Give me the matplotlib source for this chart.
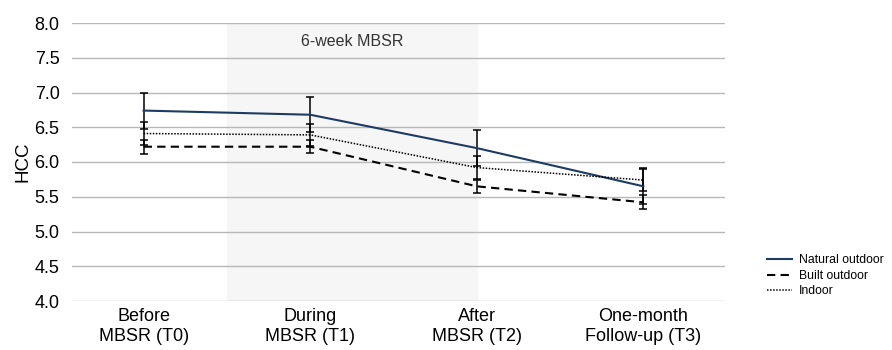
import matplotlib.pyplot as plt

plt.rcParams["font.family"] = ["Liberation Sans", "DejaVu Sans"]

# data
timepoints = ["Before\nMBSR (T0)", "During\nMBSR (T1)", "After\nMBSR (T2)", "One-month\nFollow-up (T3)"]
natural_outdoor = [6.74, 6.68, 6.20, 5.65]
natural_err = [0.26, 0.25, 0.26, 0.26]
built_outdoor = [6.22, 6.22, 5.65, 5.42]
built_err = [0.10, 0.09, 0.09, 0.10]
indoor = [6.41, 6.39, 5.92, 5.74]
indoor_err = [0.16, 0.16, 0.16, 0.16]

fig = plt.figure(figsize=(8.92, 3.5), dpi=100)
ax = fig.add_axes([72 / 892, 49 / 350, 653 / 892, 278 / 350])

x = list(range(len(timepoints)))

ax.axvspan(0.5, 2, color="#f6f6f6", zorder=0)
ax.text(1.25, 7.74, "6-week MBSR", ha="center", va="center", fontsize=11.5, color="#333333")

series = [
    ("Natural outdoor", natural_outdoor, natural_err, dict(color="#1d3c63", lw=1.5, ls="-")),
    ("Built outdoor", built_outdoor, built_err, dict(color="black", lw=1.5, ls=(0, (4, 2.5)))),
    ("Indoor", indoor, indoor_err, dict(color="black", lw=1.1, ls=(0, (1, 1)))),
]
handles = []
for name, vals, err, style in series:
    ax.errorbar(x, vals, yerr=err, fmt="none", ecolor="black", elinewidth=1.1,
                capsize=3, capthick=1.1, zorder=3)
    (line,) = ax.plot(x, vals, label=name, zorder=4, **style)
    handles.append(line)

ax.set_xlim(-0.43, 3.49)
ax.set_ylim(4.0, 8.0)
ax.set_yticks([4.0, 4.5, 5.0, 5.5, 6.0, 6.5, 7.0, 7.5, 8.0])
ax.set_yticklabels([f"{v:.1f}" for v in ax.get_yticks()])
ax.set_xticks(x)
ax.set_xticklabels(timepoints, fontsize=13, linespacing=1.2)
ax.tick_params(axis="y", length=0, pad=9, labelsize=13)
ax.tick_params(axis="x", length=0, pad=5)
ax.grid(axis="y", color="#b8b8b8", lw=1)
ax.set_axisbelow(True)
for s in ax.spines.values():
    s.set_visible(False)
ax.set_ylabel("HCC", fontsize=13.5, labelpad=2)

fig.legend(handles=handles, loc="upper left", bbox_to_anchor=(761 / 892, 1 - 248 / 350),
           frameon=False, fontsize=8.8, handlelength=2.0, handletextpad=0.6,
           labelspacing=0.3, borderpad=0)

fig.savefig("out.png", dpi=100)
